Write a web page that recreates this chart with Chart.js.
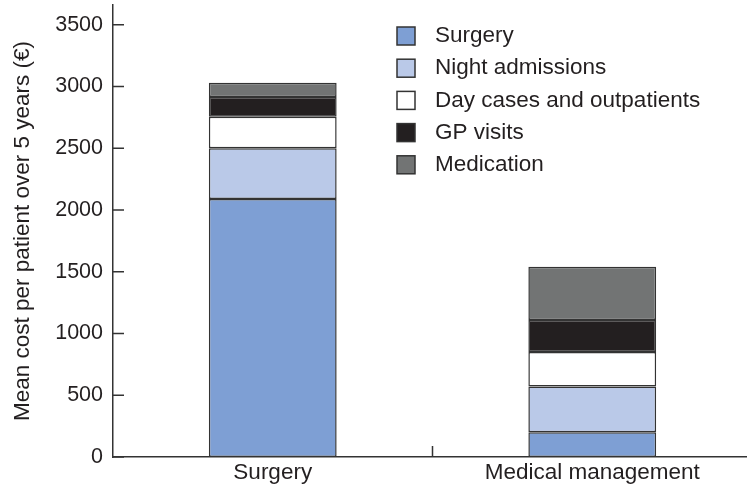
<!DOCTYPE html>
<html>
<head>
<meta charset="utf-8">
<script src="https://cdn.jsdelivr.net/npm/chart.js@4.4.1/dist/chart.umd.min.js"></script>
<style>
  html, body { margin: 0; padding: 0; background: #fff; overflow: hidden; }
  #wrap { width: 752px; height: 487px; }
</style>
</head>
<body>
<div id="wrap"><canvas id="costChart"></canvas></div>
<script>
const groups = ["Surgery", "Medical management"];
const surgery = [2090, 200];
const nightAdmissions = [410, 370];
const dayCases = [255, 280];
const gpVisits = [160, 260];
const medication = [115, 430];
const yTicks = [0, 500, 1000, 1500, 2000, 2500, 3000, 3500];

const ink = "#231f20";
const edge = "#333333";
const family = "'Liberation Sans', Arial, sans-serif";

// legend drawn inside the plot, top right
const insideLegend = {
    id: "insideLegend",
    afterDraw(chart) {
        const ctx = chart.ctx;
        const sets = chart.data.datasets;
        const x0 = 397, y0 = 27, rowGap = 32.2, box = 18;
        ctx.save();
        ctx.font = "22.5px " + family;
        ctx.textBaseline = "middle";
        sets.forEach((ds, i) => {
            const y = y0 + i * rowGap;
            ctx.fillStyle = ds.backgroundColor;
            ctx.fillRect(x0, y, box, box);
            ctx.lineWidth = 1.5;
            ctx.strokeStyle = edge;
            ctx.strokeRect(x0, y, box, box);
            ctx.fillStyle = ink;
            ctx.fillText(ds.label, 435, y + box / 2);
        });
        ctx.restore();
    }
};

// short tick marks pointing into the plot
const innerTicks = {
    id: "innerTicks",
    afterDraw(chart) {
        const ctx = chart.ctx;
        const ys = chart.scales.y;
        const xs = chart.scales.x;
        const area = chart.chartArea;
        ctx.save();
        ctx.strokeStyle = edge;
        ctx.lineWidth = 1.5;
        ctx.beginPath();
        yTicks.forEach(v => {
            const py = ys.getPixelForValue(v);
            ctx.moveTo(area.left, py);
            ctx.lineTo(area.left + 11, py);
        });
        const mid = (xs.getPixelForTick(0) + xs.getPixelForTick(1)) / 2;
        ctx.moveTo(mid, area.bottom);
        ctx.lineTo(mid, area.bottom - 11);
        ctx.stroke();
        ctx.restore();
    }
};

const makeSet = (label, data, color) => ({
    label: label,
    data: data,
    backgroundColor: color,
    borderColor: edge,
    borderWidth: 1.5,
    borderSkipped: false,
    barPercentage: 0.4,
    categoryPercentage: 1
});

new Chart(document.getElementById("costChart"), {
    type: "bar",
    data: {
        labels: groups,
        datasets: [
            makeSet("Surgery", surgery, "#7e9fd4"),
            makeSet("Night admissions", nightAdmissions, "#bac9e8"),
            makeSet("Day cases and outpatients", dayCases, "#ffffff"),
            makeSet("GP visits", gpVisits, "#231f20"),
            makeSet("Medication", medication, "#727474")
        ]
    },
    options: {
        responsive: true,
        maintainAspectRatio: false,
        animation: false,
        layout: { padding: { top: 5, left: 0, right: 0, bottom: 0 } },
        plugins: {
            legend: { display: false },
            tooltip: { enabled: false }
        },
        scales: {
            x: {
                stacked: true,
                offset: true,
                grid: { display: false, drawTicks: false },
                border: { display: true, color: edge, width: 1.5 },
                ticks: {
                    color: ink,
                    padding: 2,
                    font: { family: family, size: 22.5 }
                },
                afterFit: scale => {
                    scale.height = 30;
                    scale.paddingLeft = 0;
                    scale.paddingRight = 0;
                }
            },
            y: {
                stacked: true,
                min: 0,
                max: 3660,
                afterBuildTicks: scale => {
                    scale.ticks = yTicks.map(v => ({ value: v }));
                },
                grid: { display: false, drawTicks: false },
                border: { display: true, color: edge, width: 1.5 },
                ticks: {
                    color: ink,
                    padding: 10,
                    callback: v => String(v),
                    font: { family: family, size: 21.5 }
                },
                title: {
                    display: true,
                    text: "Mean cost per patient over 5 years (€)",
                    color: ink,
                    padding: { top: 9, bottom: 0 },
                    font: { family: family, size: 22.5 }
                },
                afterFit: scale => {
                    scale.width = 113;
                    scale.paddingTop = 0;
                    scale.paddingBottom = 0;
                }
            }
        }
    },
    plugins: [insideLegend, innerTicks]
});
</script>
</body>
</html>
